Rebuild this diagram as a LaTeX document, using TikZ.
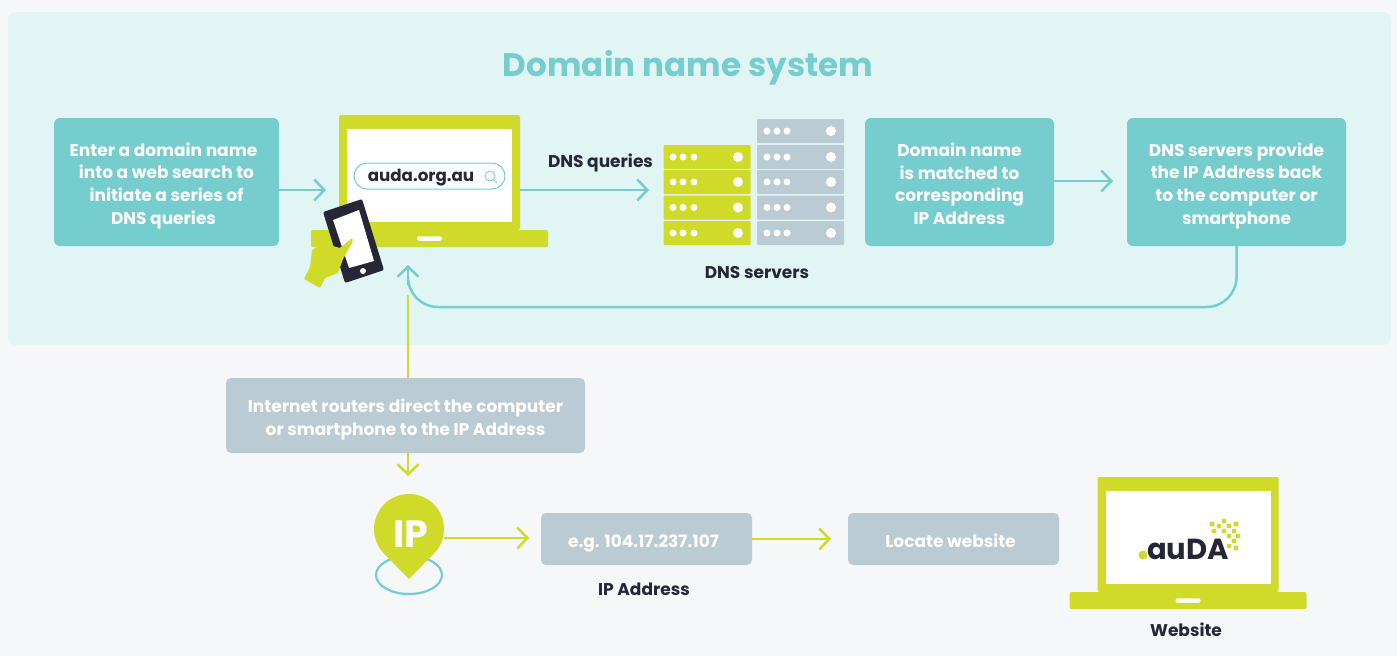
\documentclass[tikz,border=0pt]{standalone}
\usepackage{fontspec}
\setmainfont{Poppins}
\usetikzlibrary{
        arrows.meta,
        positioning,
        shapes.geometric
    }
\definecolor{pagebg}{HTML}{F5F7F9}
\definecolor{panelbg}{HTML}{E2F5F5}
\definecolor{teal}{HTML}{75CDCD}
\definecolor{lime}{HTML}{CFDB28}
\definecolor{slate}{HTML}{BBCBD4}
\definecolor{ink}{HTML}{272636}
\newcommand{\nudge}{\hspace*{6pt}}
\newcommand{\dropline}{\rule[-4pt]{0pt}{25pt}}
\newcommand{\dropend}{\rule[-4pt]{0pt}{4pt}}
\tikzset{>={Straight Barb[length=10pt,width=21pt,line width=2.5pt]}}
\tikzset{
    every node/.style={outer sep=0pt,inner sep=0pt},
    boxtext/.style={font=\fontsize{17}{22.6}\selectfont\bfseries,align=center,text=white},
    tealbox/.style={boxtext,fill=teal,rounded corners=6pt,minimum height=128pt},
    slatebox/.style={boxtext,fill=slate,rounded corners=5pt},
    caption/.style={font=\fontsize{17}{20}\selectfont\bfseries,text=ink},
    tealline/.style={draw=teal,line width=2.5pt},
    tealflow/.style={->,draw=teal,line width=2.5pt},
    limeflow/.style={->,draw=lime,line width=2.5pt},
    rack/.style={minimum width=87pt,minimum height=24pt,rounded corners=1pt},
    laptop/.pic={
        \node[fill=lime,rounded corners=2pt,minimum width=181pt,minimum height=115pt] (body) at (0,57.5) {};
        \node[fill=white,minimum width=165pt,minimum height=93pt] (screen) at (0,60.5) {};
        \node[fill=lime,rounded corners=2pt,minimum width=237pt,minimum height=17pt] (base) at (0,123.5) {};
        \node[fill=white,rounded corners=2pt,minimum width=25pt,minimum height=4.5pt] (slot) at (0,123.5) {};
    }
}

\begin{document}
\begin{tikzpicture}[x=1pt,y=-1pt]
\useasboundingbox (0,0) rectangle (1397,656);
    \fill[pagebg] (0,0) rectangle (1397,656);
    \node[fill=panelbg,rounded corners=8pt,minimum width=1383pt,minimum height=333pt] (panel) at (699.5,178.5) {};
    \node[font=\fontsize{32.6}{40}\selectfont\bfseries,text=teal] (title) at (688,67.5) {Domain name system};

    % top row
    \node[tealbox,minimum width=225pt] (enter) at (166.5,182) {\dropline Enter a domain name\nudge\\into a web search to\nudge\\initiate a series of\nudge\\DNS queries\nudge};
    \node[tealbox,minimum width=189pt] (match) at (959.5,182) {\dropline Domain name\\is matched to\\corresponding\\\dropend IP Address};
    \node[tealbox,minimum width=219pt] (provide) [right=73pt of match] {\dropline DNS servers provide\\the IP Address back\\to the computer or\\smartphone};

    \pic (a) at (429.5,115) {laptop};
    \node[draw=teal,line width=1pt,fill=white,rounded corners=13pt,minimum width=151pt,minimum height=26pt] (search) at (429.5,176) {};
    \node[font=\fontsize{16.7}{20}\selectfont\bfseries,text=ink] (url) at (421,177.5) {auda.org.au};
    \node[circle,draw=teal,line width=.8pt,minimum size=10pt] (lens) at (490,176) {};
    \coordinate (lensend) at (497,183);
    \draw[teal,line width=.8pt] (lens) -- (lensend);

    % phone and hand
    \fill[ink,rounded corners=2pt] (323,212) -- (362,199) -- (384,270) -- (345,283) -- cycle;
    \fill[white] (333,220) -- (359,210) -- (374,261) -- (349,268) -- cycle;
    \fill[white] (363,271) circle (3);
    \fill[lime,rounded corners=1pt] (352,238) -- (353,241) -- (343,259) -- (338,273) -- (325,278) -- (320,288)
        -- (304,279) -- (310,267) -- (312,250) -- (325,243) -- (333,246) -- (340,248) -- cycle;

    % servers
    \foreach \y in {157,182,207.5,233}{
        \node[rack,fill=lime] at (707,\y) {};
        \foreach \x in {673,683,694}{\fill[white] (\x,\y) circle (3.5);}
        \fill[white] (738,\y) circle (5);
    }
    \foreach \y in {131,157,182,207.5,233}{
        \node[rack,fill=slate] at (800.5,\y) {};
        \foreach \x in {767,777,787}{\fill[white] (\x,\y) circle (3.5);}
        \fill[white] (831,\y) circle (5);
    }
    \node[rack,minimum height=100pt] (servers) at (707,195) {};
    \node[caption] (serverlabel) at (757,273) {DNS servers};
    \node[caption] (querylabel) at (600.5,162.5) {DNS queries};

    % lower row
    \node[slatebox,minimum width=359pt,minimum height=75pt] (routers) at (405.5,415.5) {\dropline Internet routers direct the computer\\or smartphone to the IP Address};
    \node[slatebox,minimum width=211pt,minimum height=52pt] (ipbox) at (646.5,539) {\dropline e.g. 104.17.237.107\nudge};
    \node[slatebox,minimum width=211pt,minimum height=52pt] (locate) [right=96pt of ipbox] {\dropline Locate website\nudge};
    \node[caption,xshift=-2.5pt] (iplabel) [below=18pt of ipbox] {IP Address};

    \node[draw=teal,line width=2.2pt,ellipse,minimum width=66pt,minimum height=38pt] (ring) at (409,575) {};
    \node[circle,fill=lime,minimum size=70pt] (pin) at (409,529) {};
    \fill[lime] (384,553.5) -- (434,553.5) -- (409,579) -- cycle;
    \node[font=\fontsize{38}{40}\selectfont\bfseries,text=white] (iptext) at (411,534) {IP};

    \pic (b) at (1188,477) {laptop};
    \node[font=\fontsize{29}{30}\selectfont\bfseries,text=ink,anchor=base] (logo) at (1188,559) {auDA};
    \fill[lime] (1143,555) circle (4.5);
    \foreach \x/\y in {1212/524,1224/521,1236/524,1219/526,1229/526,1214/531,1224/531,1234/531,1229/536,1238/536,1234/541,1229/546,1236/548}{
        \fill[lime] (\x,\y) circle (2.5);
    }
    \node[caption] (sitelabel) at (1186,630) {Website};

    % connectors
    \coordinate (a1) at (326,190);
    \coordinate (a2) at (649,190);
    \coordinate (a3) at (1113,181);
    \coordinate (ret) at (408,307);
    \coordinate (turn) at (408,285);
    \coordinate (up) at (408,265);
    \coordinate (limetop) at (408,295);
    \coordinate (down) at (408,476);
    \coordinate (a4) at (529,538);
    \coordinate (a5) at (831,539);
    \draw[lime,line width=2.5pt] (routers.north -| limetop) -- (limetop);
    \path
        (enter.east |- a1) edge[tealflow] (a1)
        (abody.east |- a2) edge[tealflow] (a2)
        (match.east |- a3) edge[tealflow] (a3)
        ;
    \draw[tealline] (provide.south) [rounded corners=30pt] |- (ret) [rounded corners=18pt] -- (turn);
    \draw[tealflow] (turn) -- (up);
    \path
        (routers.south -| down) edge[limeflow] (down)
        (pin.east |- a4) edge[limeflow] (a4)
        (ipbox.east |- a5) edge[limeflow] (a5)
        ;
\end{tikzpicture}
\end{document}
